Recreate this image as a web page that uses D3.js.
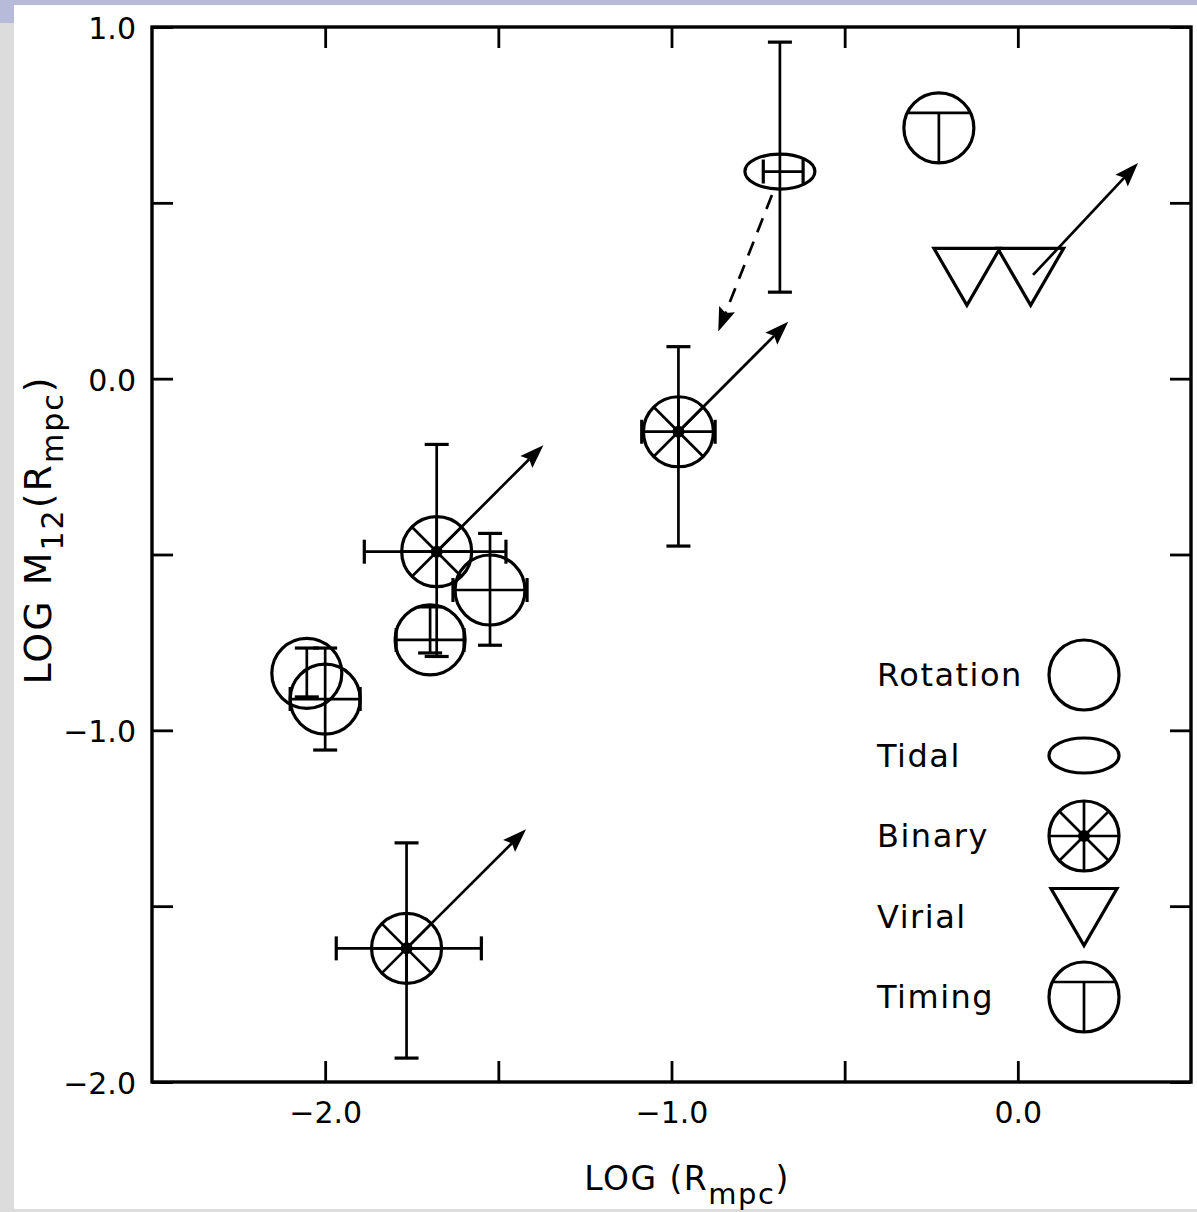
<!DOCTYPE html>
<html><head><meta charset="utf-8">
<script src="https://cdn.jsdelivr.net/npm/d3@7"></script>
<style>html,body{margin:0;padding:0;background:#fff;overflow:hidden}</style>
</head><body>
<script>
// ---------------- data ----------------
const categories = ["Rotation", "Tidal", "Binary", "Virial", "Timing"];
const xTicks = [-2.0, -1.5, -1.0, -0.5, 0.0];
const yTicks = [1.0, 0.5, 0.0, -0.5, -1.0, -1.5, -2.0];
const xTickLabels = ["−2.0", "", "−1.0", "", "0.0"];
const yTickLabels = ["1.0", "", "0.0", "", "−1.0", "", "−2.0"];

const rotationX     = [-2.053, -2.000, -1.697, -1.524];
const rotationY     = [-0.838, -0.911, -0.743, -0.601];
const rotationYLow  = [-0.905, -1.056, -0.780, -0.758];
const rotationYHigh = [-0.766, -0.766, -0.649, -0.440];
const rotationXLow  = [null, -2.101, -1.795, -1.631];
const rotationXHigh = [null, -1.899, -1.599, -1.417];

const tidalX     = [-0.687];
const tidalY     = [0.589];
const tidalXLow  = [-0.735];
const tidalXHigh = [-0.620];
const tidalYLow  = [0.246];
const tidalYHigh = [0.957];

const binaryX     = [-1.765, -1.678, -0.980];
const binaryY     = [-1.620, -0.492, -0.151];
const binaryXLow  = [-1.968, -1.887, -1.086];
const binaryXHigh = [-1.549, -1.478, -0.874];
const binaryYLow  = [-1.932, -0.790, -0.476];
const binaryYHigh = [-1.320, -0.187, 0.091];

const virialX = [-0.147, 0.037];
const virialY = [0.291, 0.291];

const timingX = [-0.228];
const timingY = [0.713];

const arrowStartX = [-1.765, -1.678, -0.980, 0.044, -0.710];
const arrowStartY = [-1.620, -0.492, -0.151, 0.295, 0.522];
const arrowEndX   = [-1.420, -1.370, -0.663, 0.347, -0.865];
const arrowEndY   = [-1.281, -0.189, 0.162, 0.613, 0.134];
const arrowDashed = [false, false, false, false, true];

// ---------------- layout ----------------
const W = 1197, H = 1212;
const FONT = "'DejaVu Sans', sans-serif";
const INK = "#000";
const svg = d3.select("body").append("svg").attr("width", W).attr("height", H);

// scan border strips
svg.append("rect").attr("x", 0).attr("y", 0).attr("width", 14).attr("height", H).attr("fill", "#dcdcdc");
svg.append("rect").attr("x", 0).attr("y", 0).attr("width", W).attr("height", 5).attr("fill", "#b7bbd9");
svg.append("rect").attr("x", 0).attr("y", 0).attr("width", 14).attr("height", 23).attr("fill", "#b7bbd9");
svg.append("rect").attr("x", 0).attr("y", H - 3).attr("width", W).attr("height", 3).attr("fill", "#dcdcdc");

const x = d3.scaleLinear().domain([-2.5, 0.5]).range([152, 1191]);
const y = d3.scaleLinear().domain([-2.0, 1.0]).range([1082, 27]);

const TICK = 21;
function styleAxis(g) {
  g.select(".domain").remove();
  g.selectAll(".tick line").attr("stroke", INK).attr("stroke-width", 2.8);
  g.selectAll(".tick text").attr("fill", INK).style("font-family", FONT).style("font-size", "30px");
}
svg.append("g").attr("transform", `translate(0,${y.range()[0]})`)
  .call(d3.axisBottom(x).tickValues(xTicks).tickSize(-TICK).tickPadding(20)
    .tickFormat((d, i) => xTickLabels[i]))
  .call(styleAxis);
svg.append("g").attr("transform", `translate(0,${y.range()[1]})`)
  .call(d3.axisTop(x).tickValues(xTicks).tickSize(-TICK).tickFormat(""))
  .call(styleAxis);
svg.append("g").attr("transform", `translate(${x.range()[0]},0)`)
  .call(d3.axisLeft(y).tickValues(yTicks).tickSize(-TICK).tickPadding(16)
    .tickFormat((d, i) => yTickLabels[i]))
  .call(styleAxis)
  .selectAll(".tick text").attr("dy", "0.38em");
svg.append("g").attr("transform", `translate(${x.range()[1]},0)`)
  .call(d3.axisRight(y).tickValues(yTicks).tickSize(-TICK).tickFormat(""))
  .call(styleAxis);

// frame
svg.append("rect")
  .attr("x", x.range()[0]).attr("y", y.range()[1])
  .attr("width", x.range()[1] - x.range()[0]).attr("height", y.range()[0] - y.range()[1])
  .attr("fill", "none").attr("stroke", INK).attr("stroke-width", 3.4);

// axis titles
const xt = svg.append("text").attr("x", 687).attr("y", 1190).attr("text-anchor", "middle")
  .style("font-family", FONT).style("font-size", "33px").style("letter-spacing", "1.5px").attr("fill", INK);
xt.append("tspan").text("LOG (R");
xt.append("tspan").attr("dy", 14).style("font-size", "29px").text("mpc");
xt.append("tspan").attr("dy", -14).text(")");

const yt = svg.append("text").attr("transform", "translate(51,530) rotate(-90)").attr("text-anchor", "middle")
  .style("font-family", FONT).style("font-size", "38px").style("letter-spacing", "2px").attr("fill", INK);
yt.append("tspan").text("LOG M");
yt.append("tspan").attr("dy", 12).style("font-size", "30px").text("12");
yt.append("tspan").attr("dy", -12).text("(R");
yt.append("tspan").attr("dy", 12).style("font-size", "30px").text("mpc");
yt.append("tspan").attr("dy", -12).text(")");

// ---------------- marks ----------------
const plot = svg.append("g");
const CAP = 12;
function errV(cx, lo, hi) {
  const px = x(cx);
  plot.append("line").attr("x1", px).attr("x2", px).attr("y1", y(lo)).attr("y2", y(hi))
    .attr("stroke", INK).attr("stroke-width", 2.7);
  [lo, hi].forEach(v => plot.append("line").attr("x1", px - CAP).attr("x2", px + CAP)
    .attr("y1", y(v)).attr("y2", y(v)).attr("stroke", INK).attr("stroke-width", 3.2));
}
function errH(cy, lo, hi) {
  const py = y(cy);
  plot.append("line").attr("x1", x(lo)).attr("x2", x(hi)).attr("y1", py).attr("y2", py)
    .attr("stroke", INK).attr("stroke-width", 2.7);
  [lo, hi].forEach(v => plot.append("line").attr("x1", x(v)).attr("x2", x(v))
    .attr("y1", py - CAP).attr("y2", py + CAP).attr("stroke", INK).attr("stroke-width", 3.2));
}

const R = 35;
const symbols = {
  Rotation(g) {
    g.append("circle").attr("r", R).attr("fill", "none").attr("stroke", INK).attr("stroke-width", 3.2);
  },
  Tidal(g) {
    g.append("ellipse").attr("rx", 35).attr("ry", 17.5).attr("fill", "none").attr("stroke", INK).attr("stroke-width", 3.2);
  },
  Binary(g) {
    g.append("circle").attr("r", R).attr("fill", "none").attr("stroke", INK).attr("stroke-width", 3.2);
    [0, 45, 90, 135].forEach(a => {
      const r = a * Math.PI / 180, dx = Math.cos(r) * R, dy = Math.sin(r) * R;
      g.append("line").attr("x1", -dx).attr("y1", -dy).attr("x2", dx).attr("y2", dy)
        .attr("stroke", INK).attr("stroke-width", 2.7);
    });
    g.append("circle").attr("r", 6).attr("fill", INK);
  },
  Virial(g) {
    g.append("path").attr("d", "M-33,-28 L33,-28 L0,29 Z").attr("fill", "none")
      .attr("stroke", INK).attr("stroke-width", 3.2).attr("stroke-linejoin", "miter");
  },
  Timing(g) {
    g.append("circle").attr("r", R).attr("fill", "none").attr("stroke", INK).attr("stroke-width", 3.2);
    const cy = -15, hw = Math.sqrt(R * R - cy * cy);
    g.append("line").attr("x1", -hw).attr("x2", hw).attr("y1", cy).attr("y2", cy).attr("stroke", INK).attr("stroke-width", 2.7);
    g.append("line").attr("x1", 0).attr("x2", 0).attr("y1", cy).attr("y2", R).attr("stroke", INK).attr("stroke-width", 2.7);
  }
};
function place(kind, cx, cy) {
  symbols[kind](plot.append("g").attr("transform", `translate(${x(cx)},${y(cy)})`));
}

// rotation
rotationX.forEach((v, i) => {
  errV(v, rotationYLow[i], rotationYHigh[i]);
  if (rotationXLow[i] !== null) errH(rotationY[i], rotationXLow[i], rotationXHigh[i]);
  place("Rotation", v, rotationY[i]);
});
// tidal
tidalX.forEach((v, i) => {
  errV(v, tidalYLow[i], tidalYHigh[i]);
  errH(tidalY[i], tidalXLow[i], tidalXHigh[i]);
  place("Tidal", v, tidalY[i]);
});
// binary
binaryX.forEach((v, i) => {
  errV(v, binaryYLow[i], binaryYHigh[i]);
  errH(binaryY[i], binaryXLow[i], binaryXHigh[i]);
  place("Binary", v, binaryY[i]);
});
virialX.forEach((v, i) => place("Virial", v, virialY[i]));
timingX.forEach((v, i) => place("Timing", v, timingY[i]));

// arrows
arrowStartX.forEach((v, i) => {
  const x1 = x(v), y1 = y(arrowStartY[i]), x2 = x(arrowEndX[i]), y2 = y(arrowEndY[i]);
  const ang = Math.atan2(y2 - y1, x2 - x1);
  const L = 24, hw = 8.5;
  const bx = x2 - Math.cos(ang) * L, by = y2 - Math.sin(ang) * L;
  plot.append("line").attr("x1", x1).attr("y1", y1).attr("x2", bx + Math.cos(ang) * 4).attr("y2", by + Math.sin(ang) * 4)
    .attr("stroke", INK).attr("stroke-width", 2.7)
    .attr("stroke-dasharray", arrowDashed[i] ? "15,10" : null);
  const px = -Math.sin(ang) * hw, py = Math.cos(ang) * hw;
  plot.append("path")
    .attr("d", `M${x2},${y2} L${bx + px},${by + py} L${bx + Math.cos(ang) * 4},${by + Math.sin(ang) * 4} L${bx - px},${by - py} Z`)
    .attr("fill", INK);
});

// ---------------- legend ----------------
const legend = svg.append("g");
categories.forEach((c, i) => {
  const yc = 675 + i * 80.5;
  legend.append("text").attr("x", 877).attr("y", yc + 11)
    .style("font-family", FONT).style("font-size", "32px").style("letter-spacing", "1.5px")
    .attr("fill", INK).text(c);
  symbols[c](legend.append("g").attr("transform", `translate(1084,${yc})`));
});
</script>
</body></html>
